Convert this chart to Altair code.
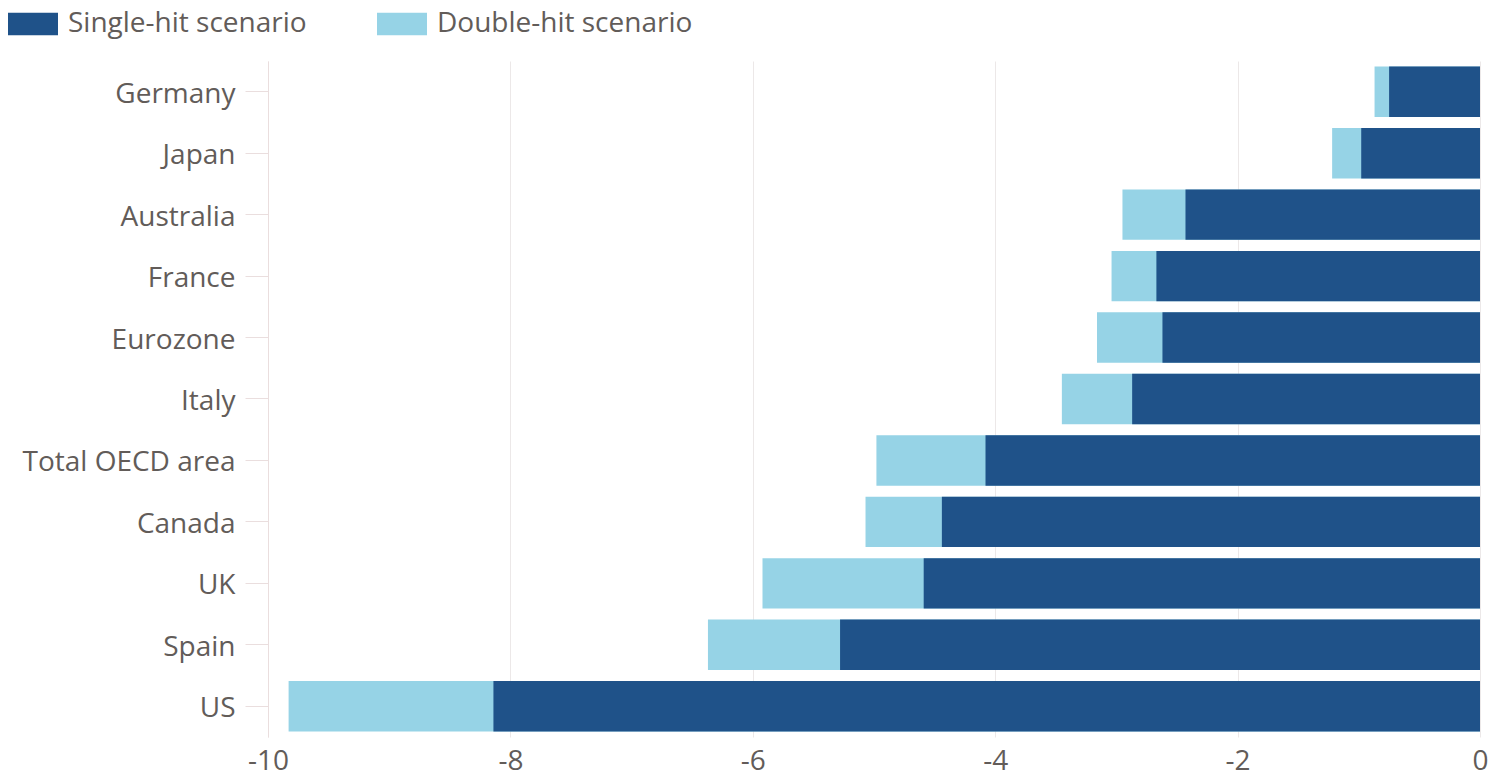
import altair as alt
import pandas as pd

countries = ["Germany", "Japan", "Australia", "France", "Eurozone", "Italy",
             "Total OECD area", "Canada", "UK", "Spain", "US"]
single_hit = [-0.75, -0.98, -2.43, -2.67, -2.62, -2.87, -4.08, -4.44, -4.59, -5.28, -8.14]
double_hit = [-0.87, -1.22, -2.95, -3.04, -3.16, -3.45, -4.98, -5.07, -5.92, -6.37, -9.83]
scenarios = ["Single-hit scenario", "Double-hit scenario"]
x_ticks = [-10, -8, -6, -4, -2, 0]

rows = []
for c, v in zip(countries, double_hit):
    rows.append({"country": c, "scenario": scenarios[1], "value": v})
for c, v in zip(countries, single_hit):
    rows.append({"country": c, "scenario": scenarios[0], "value": v})
df = pd.DataFrame(rows)

FONT = "Open Sans"
TXT = "#625c59"

chart = alt.Chart(df).mark_bar().encode(
    y=alt.Y("country:N", sort=countries, title=None,
            scale=alt.Scale(paddingInner=0.18, paddingOuter=0.09),
            axis=alt.Axis(labelFont=FONT, labelFontSize=28, labelColor=TXT,
                          domainColor="#eadede", tickColor="#eadede",
                          tickSize=23, labelPadding=10, grid=False,
                          labelLimit=400, labelOffset=3)),
    x=alt.X("value:Q", stack=None, title=None,
            scale=alt.Scale(domain=[-10, 0], nice=False),
            axis=alt.Axis(values=x_ticks, labelFont=FONT, labelFontSize=28,
                          labelColor=TXT, domain=False, ticks=False,
                          labelPadding=10, labelFlush=False,
                          gridColor="#ece8e8",
                          labelExpr="datum.value + ''")),
    color=alt.Color("scenario:N", title=None,
                    scale=alt.Scale(domain=scenarios, range=["#1f5289", "#96d3e6"]),
                    legend=alt.Legend(orient="none", legendX=-260, legendY=-62,
                                      direction="horizontal",
                                      symbolType="M-1,-0.45H1V0.45H-1Z",
                                      symbolSize=2500, symbolOpacity=1,
                                      symbolStrokeWidth=0,
                                      labelFont=FONT, labelFontSize=28,
                                      labelColor=TXT, labelOffset=10,
                                      columnPadding=70, labelLimit=400)),
).properties(
    width=1212, height=676,
    padding={"left": 268, "top": 61, "right": 24, "bottom": 43},
    autosize=alt.AutoSizeParams(type="none"),
).configure_view(stroke=None)

chart.save("out.html", embed_options={"renderer": "svg", "actions": False})
